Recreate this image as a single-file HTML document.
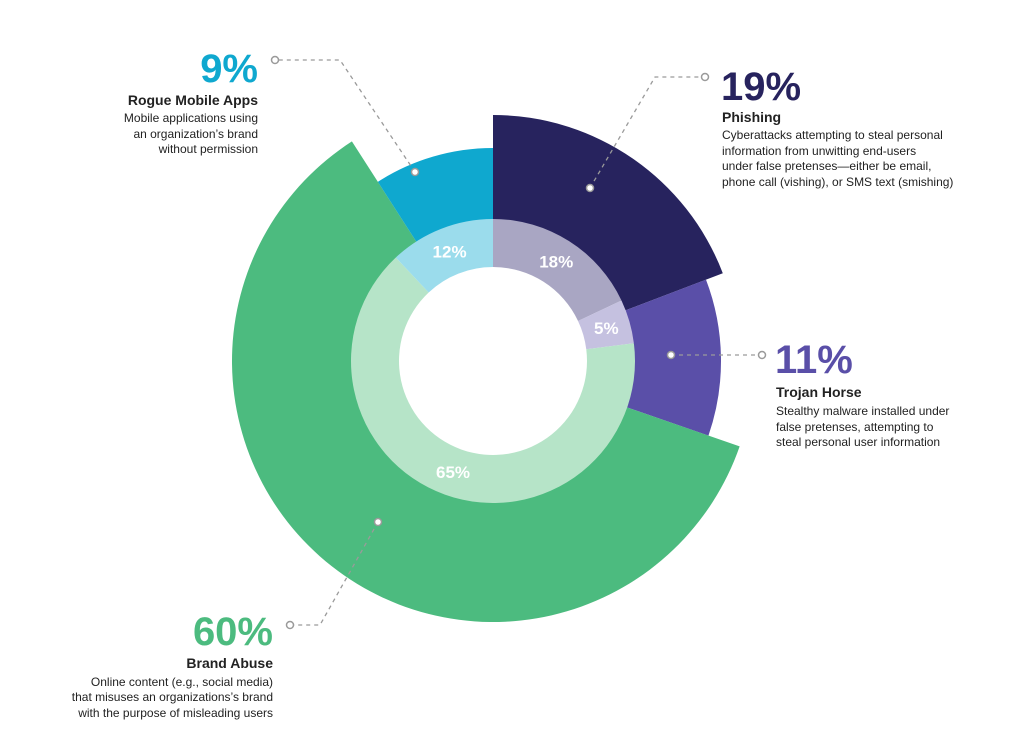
<!DOCTYPE html>
<html><head><meta charset="utf-8"><style>
html,body{margin:0;padding:0;background:#fff;}
svg{display:block;font-family:"Liberation Sans",sans-serif;}
</style></head><body>
<svg id="chart" width="1024" height="756" viewBox="0 0 1024 756">
<g id="outer"></g>
<g id="inner"></g>
<g id="ann" fill="none" stroke="#9a9a9a" stroke-width="1.3" stroke-dasharray="4,4">
<polyline points="415,172 340,60 279,60"/>
<polyline points="590,188 655,77 701,77"/>
<polyline points="671,355 758,355"/>
<polyline points="378,522 320,625 294,625"/>
</g>
<g id="dots" stroke="#9a9a9a" stroke-width="1.5" fill="#fff">
<circle cx="415" cy="172" r="3.5"/>
<circle cx="275" cy="60" r="3.5"/>
<circle cx="590" cy="188" r="3.5"/>
<circle cx="705" cy="77" r="3.5"/>
<circle cx="671" cy="355" r="3.5"/>
<circle cx="762" cy="355" r="3.5"/>
<circle cx="378" cy="522" r="3.5"/>
<circle cx="290" cy="625" r="3.5"/>
</g>
<g text-anchor="end" fill="#222">
<text x="258" y="82" font-size="40" font-weight="bold" fill="#0fa8cf">9%</text>
<text x="258" y="105" font-size="14" font-weight="bold">Rogue Mobile Apps</text>
<text x="258" y="122" font-size="12">Mobile applications using</text>
<text x="258" y="138" font-size="12">an organization’s brand</text>
<text x="258" y="153" font-size="12">without permission</text>
</g>
<g fill="#222">
<text x="721" y="100" font-size="40" font-weight="bold" fill="#27235e">19%</text>
<text x="722" y="122" font-size="14" font-weight="bold">Phishing</text>
<text x="722" y="139" font-size="12">Cyberattacks attempting to steal personal</text>
<text x="722" y="155" font-size="12">information from unwitting end-users</text>
<text x="722" y="170" font-size="12">under false pretenses—either be email,</text>
<text x="722" y="186" font-size="12">phone call (vishing), or SMS text (smishing)</text>
</g>
<g fill="#222">
<text x="775" y="373" font-size="40" font-weight="bold" fill="#5a4fa8">11%</text>
<text x="776" y="397" font-size="14" font-weight="bold">Trojan Horse</text>
<text x="776" y="415" font-size="12">Stealthy malware installed under</text>
<text x="776" y="431" font-size="12">false pretenses, attempting to</text>
<text x="776" y="446" font-size="12">steal personal user information</text>
</g>
<g text-anchor="end" fill="#222">
<text x="273" y="645" font-size="40" font-weight="bold" fill="#4cbb7f">60%</text>
<text x="273" y="668" font-size="14" font-weight="bold">Brand Abuse</text>
<text x="273" y="686" font-size="12">Online content (e.g., social media)</text>
<text x="273" y="701" font-size="12">that misuses an organizations’s brand</text>
<text x="273" y="717" font-size="12">with the purpose of misleading users</text>
</g>
</svg>
<script>
const categories=["Phishing","Trojan Horse","Brand Abuse","Rogue Mobile Apps"];
const outerValues=[19,11,60,9];
const outerRadii=[246,228,261,213];
const innerValues=[18,5,65,12];
const innerLabels=["18%","5%","65%","12%"];
const outerColors=["#27235e","#5a4fa8","#4cbb7f","#0fa8cf"];
const innerColors=["#a9a6c3","#c5c1e0","#b6e4c8","#9bdcec"];
const cx=493,cy=361,r0=94,r1=142;
const NS="http://www.w3.org/2000/svg";
function pt(a,r){return [cx+r*Math.sin(a),cy-r*Math.cos(a)];}
function arc(a0,a1,ri,ro){
 const L=(a1-a0)>Math.PI?1:0;
 const p1=pt(a0,ro),p2=pt(a1,ro),p3=pt(a1,ri),p4=pt(a0,ri);
 return `M${p1}A${ro},${ro} 0 ${L} 1 ${p2}L${p3}A${ri},${ri} 0 ${L} 0 ${p4}Z`;
}
function draw(vals,gid,radFn,colors,labels){
 const g=document.getElementById(gid);
 const tot=vals.reduce((a,b)=>a+b,0);let a=0;
 vals.forEach((v,i)=>{
  const a1=a+v/tot*2*Math.PI;
  const p=document.createElementNS(NS,"path");
  p.setAttribute("d",arc(a,a1,radFn.ri,radFn.ro(i)));
  p.setAttribute("fill",colors[i]);
  
  
  g.appendChild(p);
  if(labels){
   const m=(a+a1)/2,q=pt(m,(r0+r1)/2);
   const t=document.createElementNS(NS,"text");
   t.setAttribute("x",q[0]);t.setAttribute("y",q[1]+6);
   t.setAttribute("text-anchor","middle");t.setAttribute("fill","#fff");
   t.setAttribute("font-size","17");t.setAttribute("font-weight","bold");
   t.textContent=labels[i];
   
   
   g.appendChild(t);
  }
  a=a1;
 });
}
draw(outerValues,"outer",{ri:r1-1,ro:i=>outerRadii[i]},outerColors,null);
draw(innerValues,"inner",{ri:r0,ro:()=>r1},innerColors,innerLabels);
</script>
</body></html>
